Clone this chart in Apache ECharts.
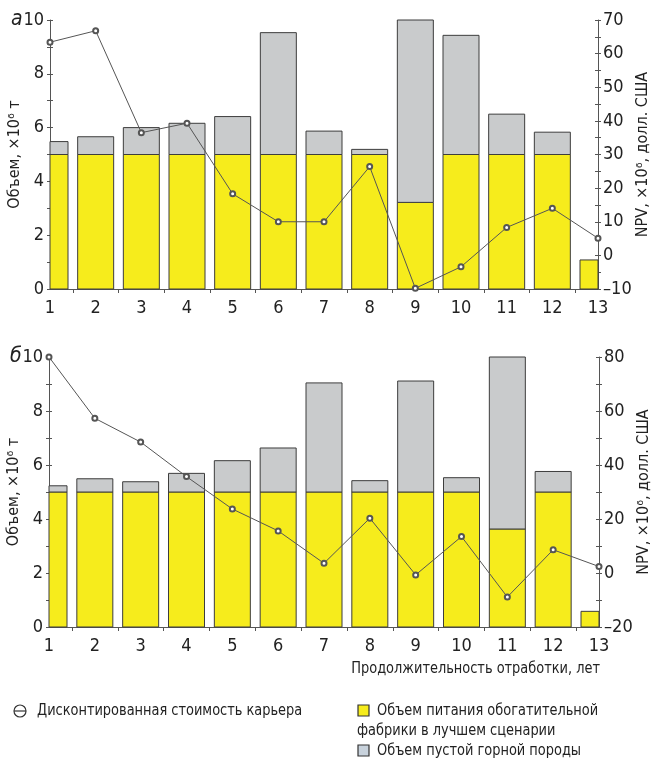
<!DOCTYPE html>
<html>
<head>
<meta charset="utf-8">
<script src="https://cdn.jsdelivr.net/npm/echarts@6/dist/echarts.min.js"></script>
<style>
html,body{margin:0;padding:0;background:#fff;}
#main{width:662px;height:764px;}
</style>
</head>
<body>
<div id="main"></div>
<script>
// ---- data ----
var years = ['1','2','3','4','5','6','7','8','9','10','11','12','13'];
// Chart "а"
var oreA   = [5, 5, 5, 5, 5, 5, 5, 5, 3.22, 5, 5, 5, 1.08];
var wasteA = [0.48, 0.66, 1.0, 1.16, 1.41, 4.53, 0.87, 0.19, 6.78, 4.43, 1.5, 0.83, 0];
var npvA   = [63.4, 66.8, 36.5, 39.3, 18.3, 10, 10, 26.4, -9.8, -3.4, 8.3, 14, 5.1];
// Chart "б"
var oreB   = [5, 5, 5, 5, 5, 5, 5, 5, 5, 5, 3.63, 5, 0.58];
var wasteB = [0.23, 0.49, 0.38, 0.69, 1.16, 1.63, 4.04, 0.42, 4.11, 0.53, 6.37, 0.76, 0];
var npvB   = [80, 57.3, 48.5, 35.7, 23.7, 15.6, 3.6, 20.3, -0.7, 13.5, -8.9, 8.6, 2.4];

var halfTicks = [1.5,2.5,3.5,4.5,5.5,6.5,7.5,8.5,9.5,10.5,11.5,12.5];

var FONT = "'Liberation Sans Narrow','DejaVu Sans Condensed',sans-serif";
var AX = '#555';
var YELLOW = '#f6ec1c';
var GRAY = '#c9cbcc';
var BORDER = '#3d3d3d';
var BAR_W = 36;

var chart = echarts.init(document.getElementById('main'), null, {renderer:'canvas'});

function fmtMinus(v){ return v < 0 ? '–' + Math.abs(v) : String(v); }

function xAxes(grid, margin){
  return [
    { type:'category', gridIndex:grid, data:years, boundaryGap:false,
      axisLine:{onZero:false, lineStyle:{color:AX,width:1}},
      axisTick:{show:true, inside:true, length:3, lineStyle:{color:AX}},
      axisLabel:{color:'#222', fontFamily:FONT, fontSize:18, margin:margin},
      splitLine:{show:false} },
    { type:'value', gridIndex:grid, min:1, max:13, position:'bottom',
      axisLine:{show:false, onZero:false},
      axisTick:{show:true, inside:false, length:4, customValues:halfTicks, lineStyle:{color:AX}},
      axisLabel:{show:false}, splitLine:{show:false} }
  ];
}

function yAxes(grid, rmin, rmax, rint, rlab, nameL, nameR){
  var base = {type:'value', gridIndex:grid, splitLine:{show:false}};
  return [
    Object.assign({}, base, { position:'left', min:0, max:10, interval:1,
      name:nameL, nameLocation:'middle', nameGap:27, nameRotate:90, nameMoveOverlap:false,
      nameTextStyle:{fontFamily:FONT, fontSize:16, color:'#222'},
      axisLine:{show:true, onZero:false, lineStyle:{color:AX}},
      axisTick:{show:true, length:3, lineStyle:{color:AX}},
      axisLabel:{fontFamily:FONT, fontSize:18, color:'#222', margin:6,
        formatter:function(v){ return v % 2 === 0 ? String(v) : ''; }} }),
    Object.assign({}, base, { position:'right', min:rmin, max:rmax, interval:rint,
      name:nameR, nameLocation:'middle', nameGap:37, nameRotate:90, nameMoveOverlap:false,
      nameTextStyle:{fontFamily:FONT, fontSize:16, color:'#222'},
      axisLine:{show:true, onZero:false, lineStyle:{color:AX}},
      axisTick:{show:true, length:3, lineStyle:{color:AX}},
      axisLabel:{fontFamily:FONT, fontSize:18, color:'#222', margin:5,
        formatter:function(v){ return v % rlab === 0 ? fmtMinus(v) : ''; }} }),
    Object.assign({}, base, { position:'left', min:0, max:10, interval:1,
      axisLine:{show:false, onZero:false}, axisLabel:{show:false},
      axisTick:{show:true, inside:true, length:3, lineStyle:{color:AX}} }),
    Object.assign({}, base, { position:'right', min:rmin, max:rmax, interval:rint,
      axisLine:{show:false, onZero:false}, axisLabel:{show:false},
      axisTick:{show:true, inside:true, length:3, lineStyle:{color:AX}} })
  ];
}

// stacked bar piece drawn through the axes, clipped to the plot area
function barPiece(fill){
  return function(params, api){
    var base = api.value(1), h = api.value(2);
    if (!(h > 0)) return null;
    var i = api.value(0);
    var pb = api.coord([i, base]);
    var pt = api.coord([i, base + h]);
    var cs = params.coordSys;
    var shape = echarts.graphic.clipRectByRect(
      {x: pb[0] - BAR_W/2, y: pt[1], width: BAR_W, height: pb[1] - pt[1]},
      {x: cs.x, y: cs.y, width: cs.width, height: cs.height});
    if (!shape) return null;
    return {type:'rect', shape:shape, style:{fill:fill, stroke:BORDER, lineWidth:1}};
  };
}

function seriesFor(g, ore, waste, npv){
  var xi = g*2, yi = g*4;
  var oreData = years.map(function(y, k){ return [y, 0, ore[k]]; });
  var wasteData = years.map(function(y, k){ return [y, ore[k], waste[k]]; });
  return [
    {type:'custom', name:'Объем питания обогатительной фабрики в лучшем сценарии',
      xAxisIndex:xi, yAxisIndex:yi, data:oreData, renderItem:barPiece(YELLOW),
      encode:{x:0, y:[1,2]}, z:2},
    {type:'custom', name:'Объем пустой горной породы',
      xAxisIndex:xi, yAxisIndex:yi, data:wasteData, renderItem:barPiece(GRAY),
      encode:{x:0, y:[1,2]}, z:2},
    {type:'line', name:'Дисконтированная стоимость карьера', xAxisIndex:xi, yAxisIndex:yi+1,
      data:npv, symbol:'emptyCircle', symbolSize:5, clip:false,
      lineStyle:{color:'#555', width:1}, itemStyle:{color:'#555', borderColor:'#555', borderWidth:1},
      z:5}
  ];
}

var xA = xAxes(0, 10).concat(xAxes(1, 10));
var yA = yAxes(0, -10, 70, 5, 10, 'Объем, ×10⁶ т', 'NPV, ×10⁶, долл. США')
  .concat(yAxes(1, -20, 80, 10, 20, 'Объем, ×10⁶ т', 'NPV, ×10⁶, долл. США'));

function txt(x, y, s, extra, sx){
  return {type:'text', x:x, y:y, scaleX:sx || 0.9,
    style:Object.assign({text:s, fontFamily:FONT, fontSize:16, fill:'#222', verticalAlign:'middle'}, extra||{})};
}

chart.setOption({
  animation:false,
  grid:[
    {left:50, top:20, width:548, height:269, outerBoundsMode:'none', containLabel:false},
    {left:49, top:357, width:550, height:270, outerBoundsMode:'none', containLabel:false}
  ],
  xAxis:xA,
  yAxis:yA,
  series:seriesFor(0, oreA, wasteA, npvA).concat(seriesFor(1, oreB, wasteB, npvB)),
  graphic:[
    txt(11, 20, 'а', {fontSize:21, fontStyle:'italic'}, 1),
    txt(10, 357, 'б', {fontSize:21, fontStyle:'italic'}, 1),
    txt(600, 669, 'Продолжительность отработки, лет', {align:'right'}),
    // legend
    {type:'circle', shape:{cx:20, cy:711, r:6}, style:{fill:'#fff', stroke:'#333', lineWidth:1.2}},
    {type:'line', shape:{x1:14, y1:711, x2:26, y2:711}, style:{stroke:'#333', lineWidth:1.2}},
    txt(37, 711, 'Дисконтированная стоимость карьера'),
    {type:'rect', shape:{x:358, y:705, width:11, height:11}, style:{fill:YELLOW, stroke:'#333', lineWidth:1.2}},
    txt(377, 711, 'Объем питания обогатительной'),
    txt(357, 731, 'фабрики в лучшем сценарии'),
    {type:'rect', shape:{x:358, y:745, width:11, height:11}, style:{fill:'#c8d2dc', stroke:'#333', lineWidth:1.2}},
    txt(377, 751, 'Объем пустой горной породы')
  ]
});
</script>
</body>
</html>
